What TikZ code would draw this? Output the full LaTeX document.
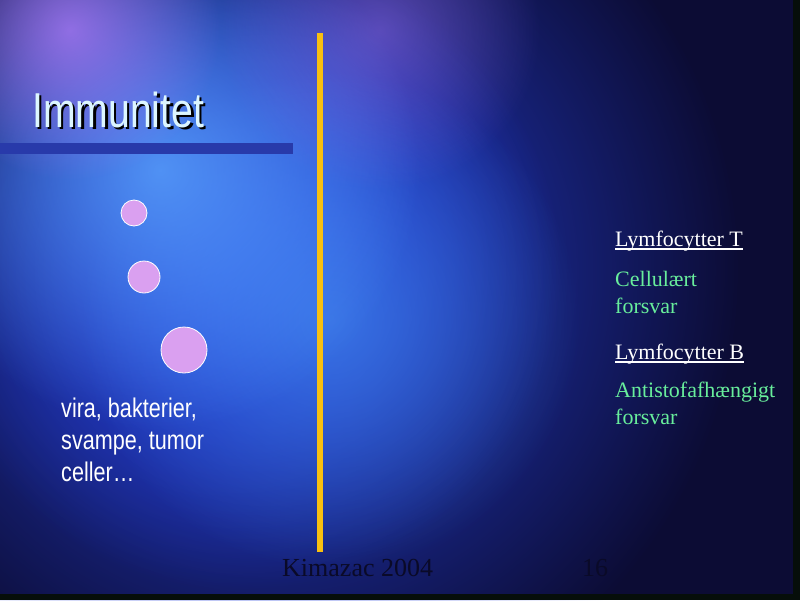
\documentclass[tikz,border=0pt]{standalone}
\usepackage{fontspec}
\usepackage{graphicx}
\usetikzlibrary{fadings}
\newfontfamily\arialfont{Liberation Sans}
\newfontfamily\timesfont{Liberation Serif}
\newcommand{\narrow}[1]{\scalebox{0.8}[1]{#1}}
\definecolor{navy}{RGB}{12,12,52}
\definecolor{deepblue}{RGB}{38,66,222}
\definecolor{skyblue}{RGB}{88,160,252}
\definecolor{aqua}{RGB}{70,150,240}
\definecolor{lilac}{RGB}{170,120,245}
\definecolor{cellpink}{RGB}{218,160,240}
\definecolor{bargold}{RGB}{248,192,16}
\definecolor{barblue}{RGB}{40,58,170}
\definecolor{titlecyan}{RGB}{220,246,255}
\definecolor{mint}{RGB}{104,238,156}
\definecolor{edgeblack}{RGB}{6,14,10}
\definecolor{footdark}{RGB}{10,10,40}
\tikzfading[name=glow, inner color=transparent!0, outer color=transparent!100]
\begin{document}
\begin{tikzpicture}[x=1pt, y=-1pt,
    cell/.style={circle, fill=cellpink, draw=white, line width=0.8pt, inner sep=0pt},
    heading/.style={anchor=base west, inner sep=0pt, text=white, font=\timesfont\fontsize{22}{27}\selectfont},
    remark/.style={anchor=base west, inner sep=0pt, align=left, text=mint, font=\timesfont\fontsize{22}{27}\selectfont},
    footer/.style={anchor=base west, inner sep=0pt, text=footdark, font=\timesfont\fontsize{26}{30}\selectfont}]
      \useasboundingbox (0,0) rectangle (800,600);
      \fill[navy] (0,0) rectangle (800,600);
      \fill[deepblue, path fading=glow] (270,270) circle (470);
      \fill[deepblue, path fading=glow] (240,270) circle (320);
      \fill[aqua, opacity=0.6, path fading=glow] (330,320) circle (250);
      \fill[skyblue, opacity=0.85, path fading=glow] (160,170) circle (260);
      \fill[lilac, opacity=0.8, path fading=glow] (70,30) circle (150);
      \fill[lilac, opacity=0.45, path fading=glow] (380,30) circle (160);
      \fill[edgeblack] (793,0) rectangle (800,600);
      \fill[edgeblack] (0,594) rectangle (800,600);
      \fill[barblue] (0,143) rectangle (293,154);
      \fill[bargold] (317,33) rectangle (323,552);
      \node[anchor=base west, inner sep=0pt, text=black, font=\arialfont\fontsize{49}{55}\selectfont] (shadow) at (34.5,129.5) {\narrow{Immunitet}};
      \node[anchor=base west, inner sep=0pt, text=titlecyan, font=\arialfont\fontsize{49}{55}\selectfont] (title) at (32,127) {\narrow{Immunitet}};
      \node[cell, minimum size=26pt] (cell1) at (134,213) {};
      \node[cell, minimum size=32pt] (cell2) at (144,277) {};
      \node[cell, minimum size=46pt] (cell3) at (184,350) {};
      \node[anchor=base west, inner sep=0pt, align=left, text=white, font=\arialfont\fontsize{27}{32}\selectfont] (agents) at (61,481) {\narrow{vira, bakterier,}\\\narrow{svampe, tumor}\\\narrow{celler\dots}};
      \node[heading] (lymft) at (615,246) {Lymfocytter T};
      \draw[white, line width=1.3pt] ([yshift=-3pt]lymft.base west) -- ([yshift=-3pt]lymft.base east);
      \node[remark] (cellular) at (615,313) {Cellulært\\forsvar};
      \node[heading] (lymfb) at (615,359) {Lymfocytter B};
      \draw[white, line width=1.3pt] ([yshift=-3pt]lymfb.base west) -- ([yshift=-3pt]lymfb.base east);
      \node[remark] (antibody) at (615,424) {Antistofafhængigt\\forsvar};
      \node[footer] (author) at (282,576) {Kimazac 2004};
      \node[footer] (page) at (582,576) {16};
\end{tikzpicture}
\end{document}
